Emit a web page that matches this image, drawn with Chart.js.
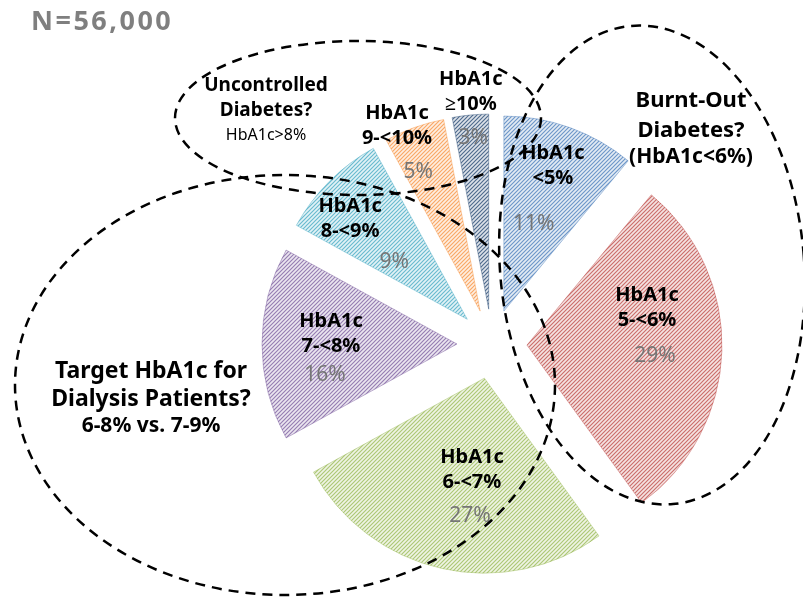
<!DOCTYPE html>
<html>
<head>
<meta charset="utf-8">
<title>HbA1c distribution</title>
<script src="https://cdn.jsdelivr.net/npm/chart.js@4.4.1/dist/chart.umd.min.js"></script>
<style>
  body { margin: 0; background: #fff; }
  #wrap { width: 803px; height: 597px; }
</style>
</head>
<body>
<div id="wrap"><canvas id="canvas" width="803" height="597"></canvas></div>
<script>
// HbA1c groups, clockwise from 12 o'clock
var rangeLabels = ["<5%", "5-<6%", "6-<7%", "7-<8%", "8-<9%", "9-<10%", "\u226510%"];
var shares = [11, 29, 27, 16, 9, 5, 3];
var sliceColors = ["#4F81BD", "#C0504D", "#9BBB59", "#8064A2", "#4BACC6", "#F79646", "#2C4D75"];

var sampleText = "N=56,000";
var noteTexts = [
  ["Uncontrolled", "Diabetes?", "HbA1c>8%"],
  ["Burnt-Out", "Diabetes?", "(HbA1c<6%)"],
  ["Target HbA1c for", "Dialysis Patients?", "6-8% vs. 7-9%"]
];

// layout: where the text sits, as [distance, degrees clockwise from top] from each slice tip
var namePos = [[153, 18.7], [125.6, 72.9], [92.6, 187.7], [126.4, 274.5], [154, 310.5], [202.8, 335.8], [217.8, 355.3]];
var pctPos = [[92, 19], [128.5, 94.9], [138.6, 186], [135.6, 256.8], [92.6, 308], [152.2, 336], [171.8, 354.8]];
var EXPLODE = 35;

// dashed callout ellipses and their text blocks
var ellipses = [
  { cx: 358, cy: 118, rx: 183, ry: 77, rot: 0 },
  { cx: 652, cy: 265, rx: 152, ry: 240, rot: -5 },
  { cx: 285, cy: 385, rx: 270, ry: 210, rot: 0 }
];
var noteLayout = [
  { x: 266, y: [86, 111, 135], fonts: ["bold 19px 'Noto Sans'", "bold 19px 'Noto Sans'", "16px 'Noto Sans'"] },
  { x: 691, y: [101, 131, 157], fonts: ["bold 22px 'Noto Sans'", "bold 22px 'Noto Sans'", "bold 21px 'Noto Sans'"] },
  { x: 151, y: [371, 399, 426], fonts: ["bold 23px 'Noto Sans'", "bold 23px 'Noto Sans'", "bold 21px 'Noto Sans'"] }
];

function fade(hex, a) {
  var n = parseInt(hex.slice(1), 16);
  return "rgba(" + (n >> 16) + "," + ((n >> 8) & 255) + "," + (n & 255) + "," + a + ")";
}

// diagonal hatch fill like the Excel pattern
function stripes(color) {
  var c = document.createElement("canvas");
  c.width = 4;
  c.height = 4;
  var g = c.getContext("2d");
  g.fillStyle = "#ffffff";
  g.fillRect(0, 0, 4, 4);
  g.fillStyle = fade(color, 0.16);
  g.fillRect(0, 0, 4, 4);
  g.strokeStyle = fade(color, 0.8);
  g.lineWidth = 1.15;
  g.beginPath();
  g.moveTo(-1, 5); g.lineTo(5, -1);
  g.moveTo(-1, 1); g.lineTo(1, -1);
  g.moveTo(3, 5); g.lineTo(5, 3);
  g.stroke();
  return g.createPattern(c, "repeat");
}

function polar(arc, pos) {
  var t = pos[1] * Math.PI / 180;
  return { x: arc.x + pos[0] * Math.sin(t), y: arc.y - pos[0] * Math.cos(t) };
}

// pull every slice out from the centre along its middle angle
var explode = {
  id: "explode",
  afterDatasetUpdate: function (chart, args) {
    var area = chart.chartArea;
    var cx = (area.left + area.right) / 2;
    var cy = (area.top + area.bottom) / 2;
    args.meta.data.forEach(function (arc) {
      var mid = (arc.startAngle + arc.endAngle) / 2;
      arc.x = cx + Math.cos(mid) * EXPLODE;
      arc.y = cy + Math.sin(mid) * EXPLODE;
    });
  }
};

var sliceText = {
  id: "sliceText",
  afterDatasetsDraw: function (chart) {
    var ctx = chart.ctx;
    var arcs = chart.getDatasetMeta(0).data;
    ctx.save();
    ctx.textAlign = "center";
    ctx.textBaseline = "middle";
    arcs.forEach(function (arc, i) {
      var p = polar(arc, namePos[i]);
      ctx.fillStyle = "#000";
      ctx.font = "bold 20px 'Noto Sans'";
      ctx.fillText("HbA1c", p.x, p.y - 12.5);
      ctx.fillText(rangeLabels[i], p.x, p.y + 12.5);
      var q = polar(arc, pctPos[i]);
      ctx.fillStyle = "#767676";
      ctx.font = "21px 'Noto Sans'";
      ctx.fillText(shares[i] + "%", q.x, q.y);
    });
    ctx.restore();
  }
};

var callouts = {
  id: "callouts",
  afterDraw: function (chart) {
    var ctx = chart.ctx;
    ctx.save();
    ctx.strokeStyle = "#000";
    ctx.lineWidth = 2.5;
    ctx.setLineDash([10, 7]);
    ellipses.forEach(function (e) {
      ctx.beginPath();
      ctx.ellipse(e.cx, e.cy, e.rx, e.ry, e.rot * Math.PI / 180, 0, Math.PI * 2);
      ctx.stroke();
    });
    ctx.setLineDash([]);

    ctx.textAlign = "center";
    ctx.textBaseline = "middle";
    ctx.fillStyle = "#000";
    noteTexts.forEach(function (lines, i) {
      var L = noteLayout[i];
      lines.forEach(function (line, j) {
        ctx.font = L.fonts[j];
        ctx.fillText(line, L.x, L.y[j]);
      });
    });

    ctx.textAlign = "left";
    ctx.fillStyle = "#7f7f7f";
    ctx.font = "bold 27px 'Noto Sans'";
    ctx.letterSpacing = "2.5px";
    ctx.fillText(sampleText, 31, 22);
    ctx.restore();
  }
};

var ctx = document.getElementById("canvas").getContext("2d");
var chart = new Chart(ctx, {
  type: "pie",
  data: {
    labels: rangeLabels,
    datasets: [{
      data: shares,
      backgroundColor: sliceColors.map(stripes),
      borderColor: sliceColors.map(function (c) { return fade(c, 0.45); }),
      borderWidth: 1
    }]
  },
  options: {
    responsive: false,
    animation: false,
    radius: 195,
    layout: { padding: { left: 181, right: 0, top: 91, bottom: 0 } },
    plugins: {
      legend: { display: false },
      tooltip: { enabled: false }
    }
  },
  plugins: [explode, sliceText, callouts]
});
</script>
</body>
</html>
